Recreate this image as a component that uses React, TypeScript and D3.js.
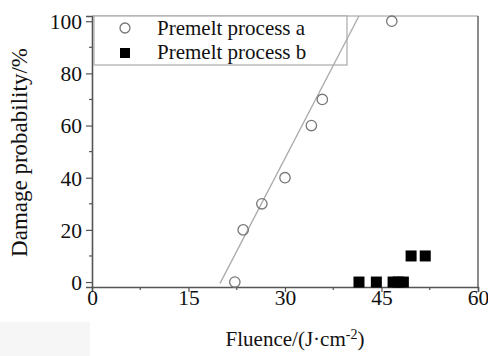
import React, { useEffect, useRef } from 'react';
import * as d3 from 'd3';

// process a (open circles)
const fluenceA = [22.2, 23.5, 26.4, 30.0, 34.1, 35.8, 46.6];
const damageA = [0, 20, 30, 40, 60, 70, 100];

// process b (filled squares)
const fluenceB = [41.5, 44.2, 46.8, 47.6, 48.4, 49.6, 51.8];
const damageB = [0, 0, 0, 0, 0, 10, 10];

// linear fit for process a
const fitX = [19.9, 41.5];
const fitY = [-0.5, 102];

const xTicks = [0, 15, 30, 45, 60];
const yTicks = [0, 20, 40, 60, 80, 100];
const legendLabels = ['Premelt process a', 'Premelt process b'];

const FONT = '"Liberation Serif", "Times New Roman", serif';

export default function App() {
  const svgRef = useRef<SVGSVGElement>(null);
  const width = 488;
  const height = 356;
  const margin = { top: 16, right: 10, bottom: 69, left: 92 };

  useEffect(() => {
    if (!svgRef.current) return;
    const svg = d3.select(svgRef.current);
    svg.selectAll('*').remove();

    const innerW = width - margin.left - margin.right;
    const innerH = height - margin.top - margin.bottom;

    const x = d3.scaleLinear().domain([0, 60]).range([0, innerW]);
    const y = d3.scaleLinear().domain([-1.9, 102]).range([innerH, 0]);

    // faint scan artifact in the lower left corner
    svg.append('rect')
      .attr('x', 0).attr('y', 322).attr('width', 90).attr('height', 34)
      .attr('fill', '#f6f6f6');

    const g = svg.append('g')
      .attr('transform', `translate(${margin.left},${margin.top})`);

    // frame: top and right
    g.append('line')
      .attr('x1', 0).attr('x2', innerW).attr('y1', 0).attr('y2', 0)
      .attr('stroke', '#999').attr('stroke-width', 1.2);
    g.append('line')
      .attr('x1', innerW).attr('x2', innerW).attr('y1', 0).attr('y2', innerH)
      .attr('stroke', '#666').attr('stroke-width', 1.5);

    // axes
    const xAxis = g.append('g')
      .attr('transform', `translate(0,${innerH})`)
      .call(d3.axisBottom(x).tickValues(xTicks).tickSize(5).tickPadding(4).tickFormat(d3.format('d')));
    xAxis.append('g')
      .selectAll('line')
      .data([7.5, 22.5, 37.5, 52.5])
      .enter()
      .append('line')
      .attr('x1', d => x(d)).attr('x2', d => x(d))
      .attr('y1', 0).attr('y2', 3);

    const yAxis = g.append('g')
      .call(d3.axisLeft(y).tickValues(yTicks).tickSize(6).tickPadding(4).tickFormat(d3.format('d')));
    yAxis.append('g')
      .selectAll('line')
      .data([10, 30, 50, 70, 90])
      .enter()
      .append('line')
      .attr('x1', 0).attr('x2', -3)
      .attr('y1', d => y(d)).attr('y2', d => y(d));

    [xAxis, yAxis].forEach(ax => {
      ax.attr('font-family', null).attr('font-size', null);
      ax.select('.domain').attr('stroke', '#555').attr('stroke-width', 1.6);
      ax.selectAll('line').attr('stroke', '#555').attr('stroke-width', 1.2);
      ax.selectAll('text')
        .attr('fill', '#111')
        .style('font-family', FONT)
        .style('font-size', '21.5px');
    });
    xAxis.selectAll('.tick text').attr('y', 3).attr('dy', '0.71em');
    yAxis.selectAll('.tick text').attr('dy', '0.34em');

    // legend box
    const legend = g.append('g').attr('transform', 'translate(2,0)');
    legend.append('rect')
      .attr('x', 0).attr('y', 0).attr('width', 253).attr('height', 49)
      .attr('fill', '#fff').attr('stroke', '#aaa').attr('stroke-width', 1.2);
    legend.append('circle')
      .attr('cx', 31).attr('cy', 12).attr('r', 5)
      .attr('fill', 'none').attr('stroke', '#777').attr('stroke-width', 1.3);
    legend.append('rect')
      .attr('x', 26).attr('y', 32).attr('width', 10).attr('height', 10)
      .attr('fill', '#000');
    legend.selectAll('text.leg')
      .data(legendLabels)
      .enter()
      .append('text')
      .attr('class', 'leg')
      .attr('x', 63)
      .attr('y', (d, i) => 18.5 + i * 24.5)
      .attr('fill', '#111')
      .style('font-family', FONT)
      .style('font-size', '21px')
      .text(d => d);

    // fit line
    const clip = g.append('clipPath').attr('id', 'plot-clip');
    clip.append('rect').attr('x', 0).attr('y', 0).attr('width', innerW).attr('height', innerH);
    const fit = fitX.map((v, i) => [v, fitY[i]] as [number, number]);
    g.append('path')
      .datum(fit)
      .attr('clip-path', 'url(#plot-clip)')
      .attr('fill', 'none')
      .attr('stroke', '#aaa')
      .attr('stroke-width', 1.3)
      .attr('d', d3.line<[number, number]>().x(d => x(d[0])).y(d => y(d[1])));

    // process a points
    g.selectAll('circle.pa')
      .data(fluenceA.map((v, i) => ({ x: v, y: damageA[i] })))
      .enter()
      .append('circle')
      .attr('class', 'pa')
      .attr('cx', d => x(d.x))
      .attr('cy', d => y(d.y))
      .attr('r', 5.2)
      .attr('fill', 'none')
      .attr('stroke', '#777')
      .attr('stroke-width', 1.3);

    // process b points
    g.selectAll('rect.pb')
      .data(fluenceB.map((v, i) => ({ x: v, y: damageB[i] })))
      .enter()
      .append('rect')
      .attr('class', 'pb')
      .attr('x', d => x(d.x) - 5.5)
      .attr('y', d => y(d.y) - 5.5)
      .attr('width', 11)
      .attr('height', 11)
      .attr('fill', '#000');

    // axis titles
    const xt = svg.append('text')
      .attr('x', 295)
      .attr('y', 346)
      .attr('text-anchor', 'middle')
      .attr('fill', '#111')
      .style('font-family', FONT)
      .style('font-size', '21px');
    xt.append('tspan').text('Fluence/(J·cm');
    xt.append('tspan').attr('dy', -7).style('font-size', '14px').text('-2');
    xt.append('tspan').attr('dy', 7).text(')');

    svg.append('text')
      .attr('transform', 'translate(27,152.5) rotate(-90)')
      .attr('text-anchor', 'middle')
      .attr('fill', '#111')
      .style('font-family', FONT)
      .style('font-size', '23px')
      .text('Damage probability/%');
  }, []);

  return (
    <svg
      ref={svgRef}
      width={width}
      height={height}
      style={{ position: 'absolute', left: 0, top: 0, background: '#fff' }}
    />
  );
}
